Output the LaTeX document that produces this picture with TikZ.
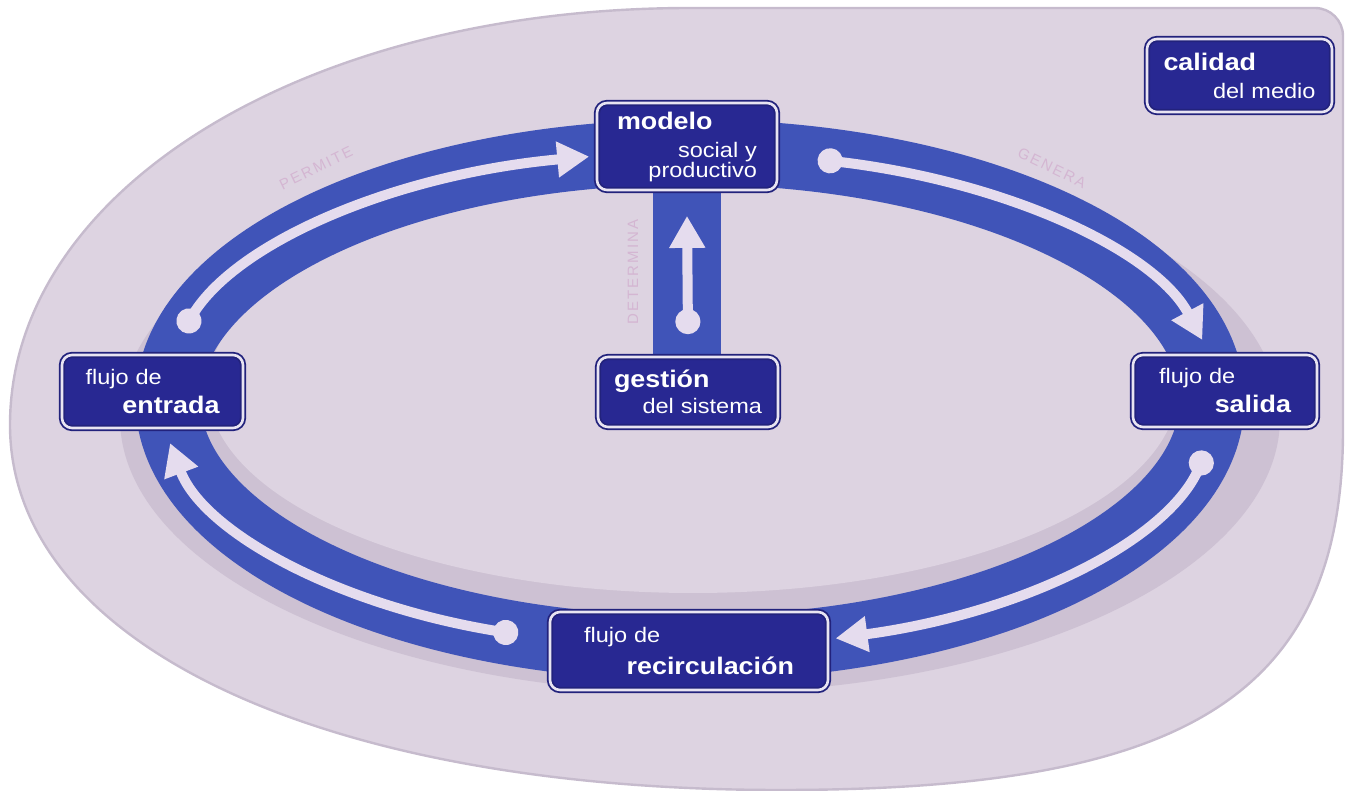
\documentclass[tikz,border=0pt]{standalone}
\usepackage{fontspec}
\setmainfont[FakeStretch=1.12]{Liberation Sans}
\newfontfamily\tagfont[LetterSpace=14]{Liberation Sans}
\usetikzlibrary{arrows.meta,calc}

\definecolor{fondo}{RGB}{221,211,225}
\definecolor{borde}{RGB}{198,187,205}
\definecolor{sombra}{RGB}{205,193,211}
\definecolor{anillo}{RGB}{64,84,184}
\definecolor{caja}{RGB}{40,40,146}
\definecolor{filete}{RGB}{232,228,242}
\definecolor{flecha}{RGB}{229,220,238}
\definecolor{rotulo}{RGB}{212,182,210}

\newcommand{\negrita}[1]{{\fontsize{12}{13}\selectfont\bfseries #1}}

\pgfdeclarelayer{back}
\pgfsetlayers{back,main}

\tikzset{
    box/.style =    {rectangle,
                    rounded corners=5pt,
                    fill=caja,
                    draw=caja!85!black,
                    double=filete,
                    double distance=1.3pt,
                    line width=0.9pt,
                    text=white,
                    inner sep=0pt,
                    align=left,
                    font=\fontsize{10.5}{13}\selectfont},
    ring/.style =   {draw=anillo,
                    line width=32.5pt},
    flow/.style =   {draw=flecha,
                    line width=5pt,
                    {Circle[length=12.5pt]}-{Triangle[length=16pt,width=17pt]}},
    tag/.style =    {text=rotulo,
                    inner sep=0pt,
                    font=\tagfont\fontsize{7.5}{8}\selectfont}
}

\begin{document}
\begin{tikzpicture}[x=0.5pt,y=-0.5pt]
    \useasboundingbox (0,0) rectangle (1346,791);

    % cajas
    \node[box, minimum width=90pt, minimum height=43.5pt, text width=70pt]   (modelo)  at (687,146.5)
        {\negrita{modelo}\\[1pt]\hspace*{\fill}social y\\[-3pt]\hspace*{\fill}productivo};
    \node[box, minimum width=90.5pt, minimum height=36.5pt, text width=67pt] (entrada) at (152.5,391.5)
        {flujo de\\[1.5pt]\hspace*{\fill}\negrita{entrada}};
    \node[box, minimum width=90pt, minimum height=35pt, text width=74pt]     (gestion) at (688,392)
        {\negrita{gestión}\\\hspace*{\fill}del sistema};
    \node[box, minimum width=92pt, minimum height=36pt, text width=66pt]     (salida)  at (1225,391)
        {flujo de\\[1.5pt]\hspace*{\fill}\negrita{salida}};
    \node[box, minimum width=139pt, minimum height=39pt, text width=105pt]   (recirc)  at (689,651)
        {flujo de\\[3pt]\hspace*{\fill}\negrita{recirculación}};
    \node[box, minimum width=92.5pt, minimum height=36.5pt, text width=76pt] (calidad) at (1239.5,75.5)
        {\negrita{calidad}\\[1pt]\hspace*{\fill}del medio};

    \node[tag, rotate=26]  (permite)   at (316,168)  {PERMITE};
    \node[tag, rotate=-26] (genera)    at (1052,168) {GENERA};
    \node[tag, rotate=90]  (determina) at (633,272)  {DETERMINA};

    \begin{pgfonlayer}{back}
        % fondo del medio
        \filldraw[fill=fondo, draw=borde, line width=1.2pt]
            (690,8) .. controls (305,8) and (10,190) .. (10,425)
            .. controls (10,642) and (318,790) .. (780,790)
            .. controls (1180,790) and (1343,700) .. (1343,430)
            -- (1343,36) arc[start angle=0, end angle=-90, radius=28] -- cycle;
        \fill[sombra] (700,418) ellipse [x radius=580, y radius=275];
        \fill[fondo]  (693,388) ellipse [x radius=485, y radius=205];

        % anillo
        \coordinate (centro) at (690,400);
        \draw[ring] (centro) ellipse [x radius=522, y radius=248];
        \draw[ring, line width=34pt] (modelo.south) -- (modelo.south |- gestion.north);

        % flujos
        \coordinate (ent) at ($(centro)+(196:528 and 248)$);
        \coordinate (mod) at ($(centro)+(284:528 and 248)$);
        \coordinate (sal) at ($(centro)+(12:528 and 248)$);
        \coordinate (rec) at ($(centro)+(109:528 and 248)$);
        \draw[flow] (ent) arc[start angle=196, end angle=259, x radius=528, y radius=248];
        \draw[flow] (mod) arc[start angle=284, end angle=346, x radius=528, y radius=248];
        \draw[flow] (sal) arc[start angle=12,  end angle=74,  x radius=528, y radius=248];
        \draw[flow] (rec) arc[start angle=109, end angle=170, x radius=528, y radius=248];
        \draw[flow] ([yshift=11pt]gestion.north) -- ([yshift=-12.5pt]modelo.south);
    \end{pgfonlayer}
\end{tikzpicture}
\end{document}
